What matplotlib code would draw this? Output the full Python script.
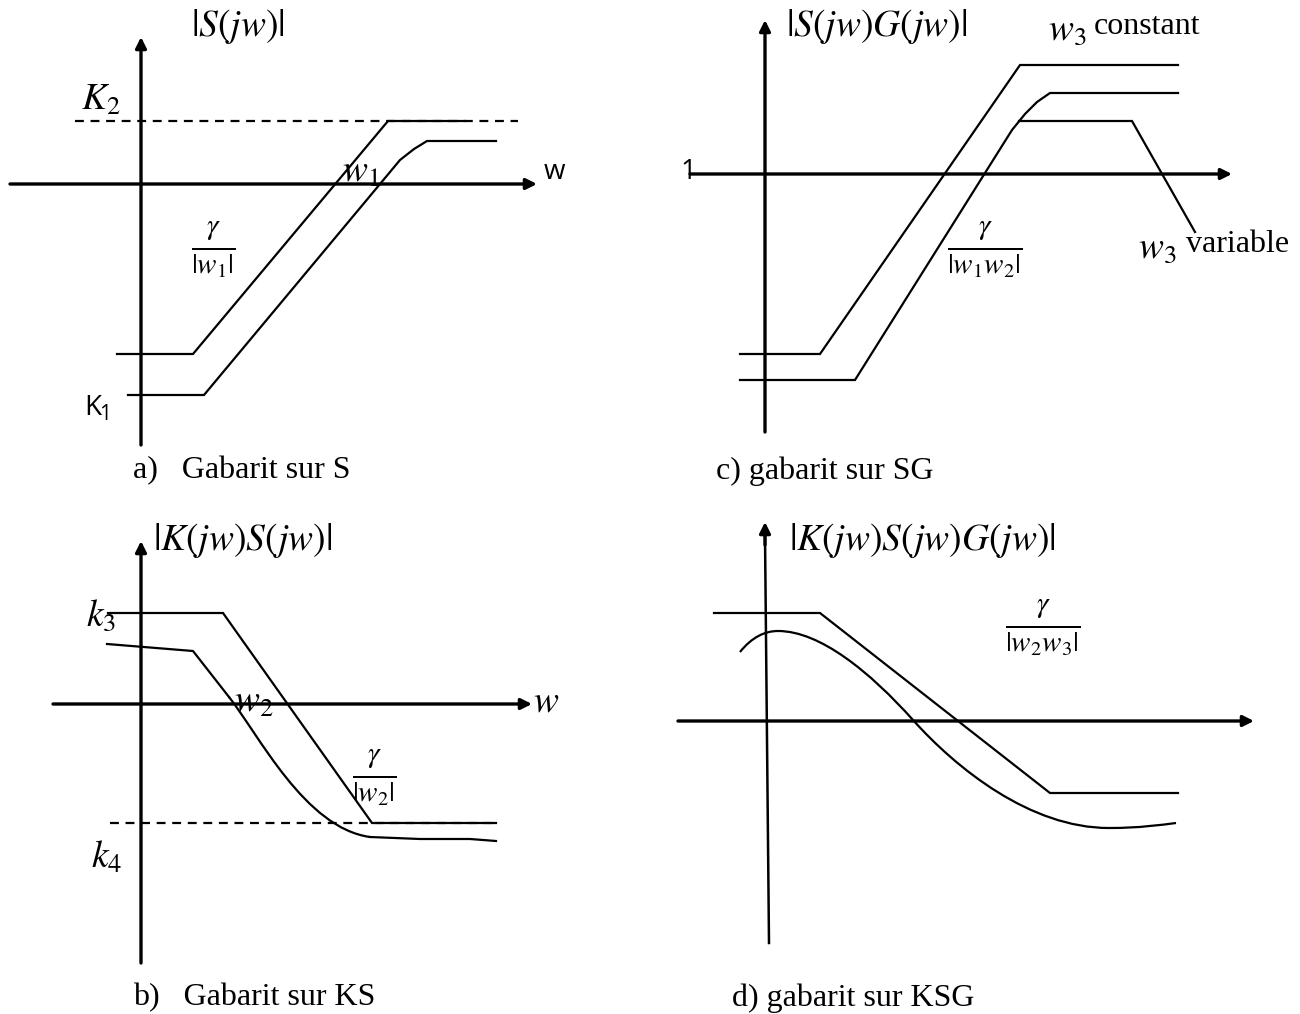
import matplotlib
matplotlib.use("Agg")
import matplotlib.pyplot as plt
from matplotlib.path import Path
from matplotlib.patches import PathPatch

plt.rcParams["mathtext.fontset"] = "stix"

# --- a) template on S ---
a_upper_x = [117, 193, 388, 465]
a_upper_y = [354, 354, 121, 121]
a_lower_x = [128, 204, 370, 400, 414, 427, 496]
a_lower_y = [395, 395, 196, 160, 149, 141, 141]
a_k2 = 121

# --- c) template on SG ---
c_top_x = [740, 820, 1020, 1178]
c_top_y = [354, 354, 65, 65]
c_mid_x = [740, 855, 1012, 1025, 1037, 1050, 1178]
c_mid_y = [380, 380, 130, 114, 102, 93, 93]
c_var_x = [1019, 1132, 1195]
c_var_y = [121, 121, 232]

# --- b) template on KS ---
# polyline part, then cubic bezier (start, ctrl, ctrl, end), then tail
b_upper_x = [108, 223, 372, 496]
b_upper_y = [613, 613, 823, 823]
b_lower_head_x = [107, 193, 229]
b_lower_head_y = [644, 651, 697]
b_lower_bez_x = [229, 259, 305, 370]
b_lower_bez_y = [697, 735, 828, 837]
b_lower_tail_x = [370, 420, 470, 496]
b_lower_tail_y = [837, 839, 839, 841]
b_k4 = 823

# --- d) template on KSG ---
# chained cubic bezier: start, then (ctrl, ctrl, end) per segment
d_upper_x = [714, 820, 1050, 1178]
d_upper_y = [613, 613, 793, 793]
d_lower_x = [740, 752, 765, 778, 820, 870, 913, 956, 1030, 1109, 1140, 1160, 1176]
d_lower_y = [652, 637, 631, 631, 631, 672, 720, 768, 828, 828, 828, 825, 823]

fig = plt.figure(figsize=(13, 10.14), dpi=100)
ax = fig.add_axes([0, 0, 1, 1])
ax.set_xlim(0, 1300)
ax.set_ylim(1014, 0)
ax.axis("off")

lw_axis = 2.4
lw_curve = 1.6


def arrow(x0, y0, x1, y1):
    ax.annotate("", xy=(x1, y1), xytext=(x0, y0),
                arrowprops=dict(arrowstyle="-|>", lw=lw_axis, color="k",
                                mutation_scale=16, shrinkA=0, shrinkB=0))


def curve(xs, ys, **kw):
    ax.plot(xs, ys, color="k", lw=lw_curve, solid_joinstyle="miter", **kw)


def bezier(xs, ys):
    verts = list(zip(xs, ys))
    codes = [Path.MOVETO] + [Path.CURVE4] * (len(verts) - 1)
    ax.add_patch(PathPatch(Path(verts, codes), fill=False, lw=lw_curve, ec="k"))


math_kw = dict(color="k", fontsize=27)
frac_size = 30
serif = "Liberation Serif"
cap_size = 23

# panel a
arrow(141, 445, 141, 37)
arrow(10, 184, 537, 184)
ax.plot([75, 518], [a_k2, a_k2], color="k", lw=lw_curve, ls=(0, (4, 3)))
curve(a_upper_x, a_upper_y)
curve(a_lower_x, a_lower_y)
ax.text(238, 26, r"$|S(jw)|$", ha="center", va="center", **math_kw)
ax.text(101, 100, r"$K_2$", ha="center", va="center", **math_kw)
ax.text(361, 172, r"$w_1$", ha="center", va="center", **math_kw)
ax.text(554, 172, "w", family="Open Sans", fontsize=20, ha="center", va="center")
ax.text(213, 250, r"$\frac{\gamma}{|w_1|}$", ha="center", va="center", fontsize=frac_size)
ax.text(93, 408, "K", family="Open Sans", fontsize=20, ha="center", va="center")
ax.text(105, 415, "1", family="Open Sans", fontsize=15, ha="center", va="center")
ax.text(133, 471, "a)   Gabarit sur S", family=serif, fontsize=cap_size, ha="left", va="center")

# panel c
arrow(765, 432, 765, 20)
arrow(690, 174, 1232, 174)
curve(c_top_x, c_top_y)
curve(c_mid_x, c_mid_y)
curve(c_var_x, c_var_y)
ax.text(688, 172, "1", family="Open Sans", fontsize=20, ha="center", va="center")
ax.text(877, 26, r"$|S(jw)G(jw)|$", ha="center", va="center", **math_kw)
ax.text(1048, 30, r"$w_3$", ha="left", va="center", **math_kw)
ax.text(1094, 27, "constant", family=serif, fontsize=cap_size, ha="left", va="center")
ax.text(1138, 248, r"$w_3$", ha="left", va="center", **math_kw)
ax.text(1186, 245, "variable", family=serif, fontsize=cap_size, ha="left", va="center")
ax.text(985, 250, r"$\frac{\gamma}{|w_1w_2|}$", ha="center", va="center", fontsize=frac_size)
ax.text(716, 471, "c) gabarit sur SG", family=serif, fontsize=cap_size, ha="left", va="center")

# panel b
arrow(141, 963, 141, 541)
arrow(53, 704, 532, 704)
ax.plot([110, 496], [b_k4, b_k4], color="k", lw=lw_curve, ls=(0, (4, 3)))
curve(b_upper_x, b_upper_y)
curve(b_lower_head_x, b_lower_head_y)
bezier(b_lower_bez_x, b_lower_bez_y)
curve(b_lower_tail_x, b_lower_tail_y)
ax.text(243, 540, r"$|K(jw)S(jw)|$", ha="center", va="center", **math_kw)
ax.text(101, 616, r"$k_3$", ha="center", va="center", **math_kw)
ax.text(254, 702, r"$w_2$", ha="center", va="center", **math_kw)
ax.text(546, 701, r"$w$", ha="center", va="center", **math_kw)
ax.text(374, 778, r"$\frac{\gamma}{|w_2|}$", ha="center", va="center", fontsize=frac_size)
ax.text(107, 858, r"$k_4$", ha="center", va="center", **math_kw)
ax.text(133, 998, "b)   Gabarit sur KS", family=serif, fontsize=cap_size, ha="left", va="center")

# panel d
ax.plot([769, 765], [943, 535], color="k", lw=1.8)
arrow(765, 545, 765, 522)
arrow(678, 721, 1254, 721)
curve(d_upper_x, d_upper_y)
bezier(d_lower_x, d_lower_y)
ax.text(922, 540, r"$|K(jw)S(jw)G(jw)|$", ha="center", va="center", **math_kw)
ax.text(1043, 627, r"$\frac{\gamma}{|w_2w_3|}$", ha="center", va="center", fontsize=frac_size)
ax.text(732, 998, "d) gabarit sur KSG", family=serif, fontsize=cap_size, ha="left", va="center")

fig.savefig("out.png", dpi=100, facecolor="white")
